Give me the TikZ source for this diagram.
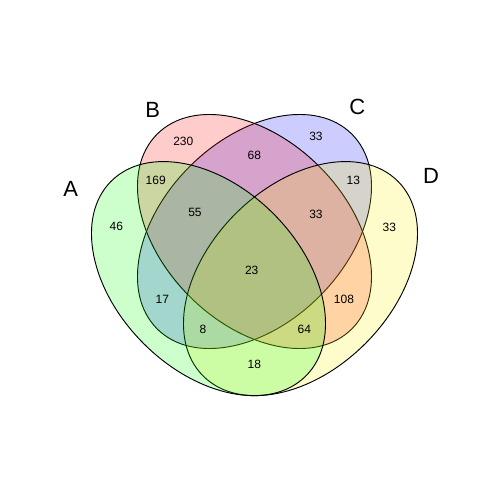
\documentclass[tikz,border=0pt]{standalone}
\usepackage{fontspec}
\setmainfont{Liberation Sans}
\begin{document}
\begin{tikzpicture}[x=0.75pt,y=0.75pt,
  venn/.style={draw=black, line width=0.7pt, fill opacity=0.2},
  num/.style={font=\fontsize{9}{10}\selectfont, inner sep=0pt},
  cat/.style={font=\fontsize{16.5}{18}\selectfont, inner sep=0pt}]
\fill[white] (0,0) rectangle (480,480);
\useasboundingbox (0,0) rectangle (480,480);
% ellipses, drawing order C, B, D, A
\draw[venn, fill=blue, shift={(254.5,248.5)}, rotate=45] (0,0) ellipse [x radius=137.7, y radius=91.8];
\draw[venn, fill=red, shift={(254.5,248.5)}, rotate=-45] (0,0) ellipse [x radius=137.7, y radius=91.8];
\draw[venn, fill=yellow, shift={(300.5,201.4)}, rotate=45] (0,0) ellipse [x radius=137.7, y radius=91.8];
\draw[venn, fill=green, shift={(208.5,201.4)}, rotate=-45] (0,0) ellipse [x radius=137.7, y radius=91.8];
% category labels
\node[cat] (labA) at (70.7,290.7) {A};
\node[cat] (labB) at (152.8,370) {B};
\node[cat] (labC) at (357.3,372.7) {C};
\node[cat] (labD) at (431,304.3) {D};
% counts
\node[num] (n230) at (183.3,339) {230};
\node[num] (n68) at (254.3,325) {68};
\node[num] (n33c) at (316,344) {33};
\node[num] (n169) at (155.7,300) {169};
\node[num] (n13) at (353.3,300) {13};
\node[num] (n55) at (195,268) {55};
\node[num] (n33bcd) at (316,266) {33};
\node[num] (n46) at (116.3,254) {46};
\node[num] (n33d) at (389.3,252.3) {33};
\node[num] (n23) at (251.7,210) {23};
\node[num] (n17) at (162.3,181) {17};
\node[num] (n108) at (344,181) {108};
\node[num] (n8) at (203,151) {8};
\node[num] (n64) at (304.3,151) {64};
\node[num] (n18) at (254.3,116) {18};
\end{tikzpicture}
\end{document}
